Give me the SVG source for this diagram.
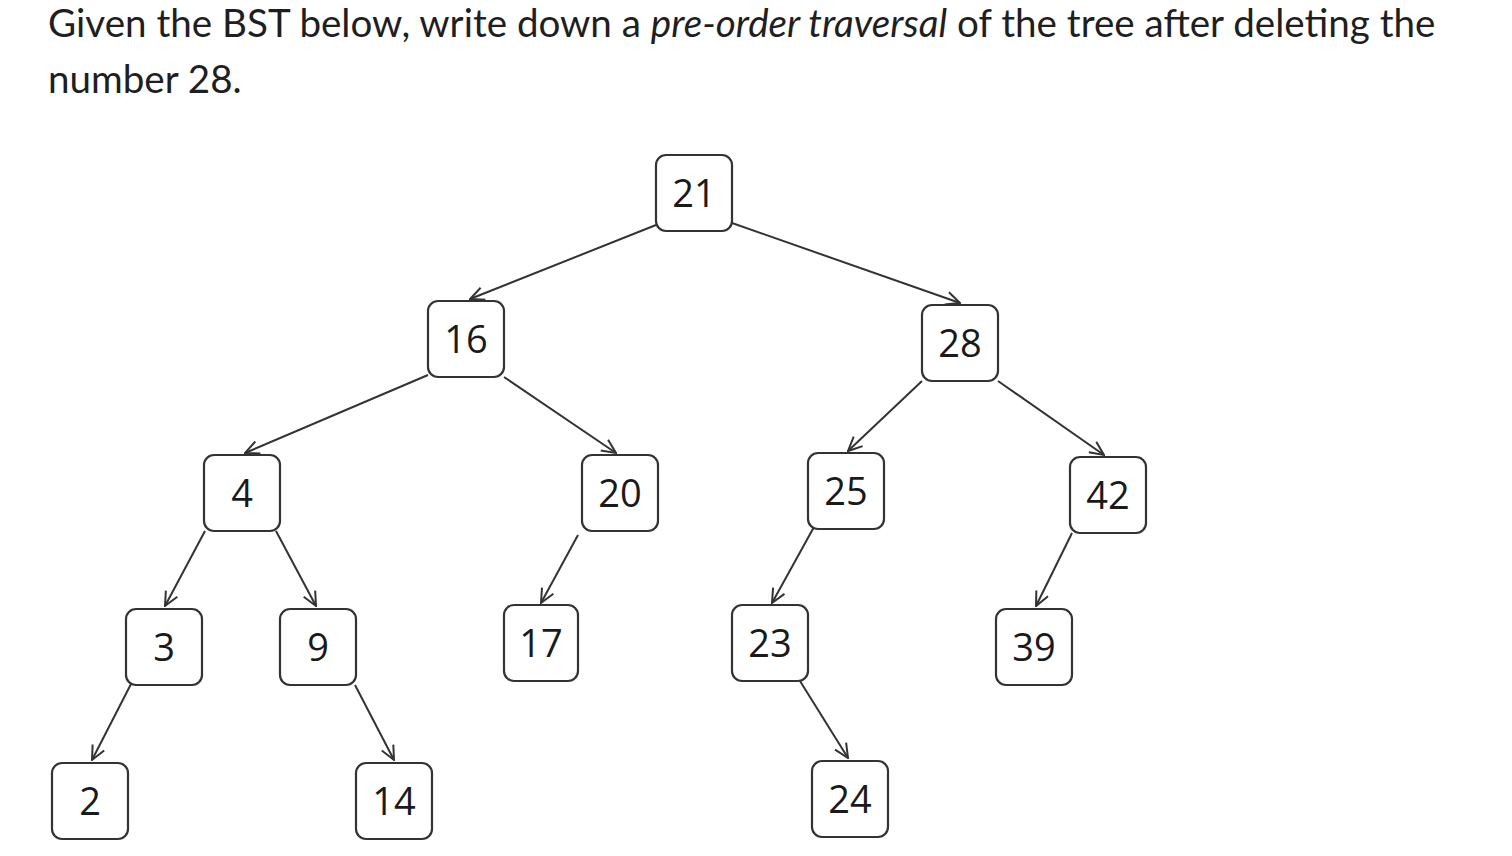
<svg xmlns="http://www.w3.org/2000/svg" width="1512" height="856" viewBox="0 0 1512 856">
<style>
.h{font-family:Lato,"Liberation Sans",sans-serif;font-size:38.6px;fill:#1f1f1f}
.n rect{fill:#fff;stroke:#333;stroke-width:2.2}
.n text{font-family:"Open Sans",Lato,"Liberation Sans",sans-serif;font-size:38px;fill:#1a1a1a;text-anchor:middle;dominant-baseline:central}
.e line{stroke:#333;stroke-width:2;marker-end:url(#a)}
</style>
<defs><marker id="a" viewBox="0 0 16 16" refX="15" refY="8" markerWidth="16" markerHeight="16" markerUnits="userSpaceOnUse" orient="auto"><path d="M1,1.5 L15,8 L1,14.5" fill="none" stroke="#333" stroke-width="2"/></marker></defs>
<rect width="1512" height="856" fill="#fff"/>
<text class="h" x="48" y="37">Given the BST below, write down a <tspan font-style="italic">pre-order traversal</tspan> of the tree after deleting the</text>
<text class="h" x="48" y="93">number 28.</text>
<g class="e">
<line x1="656" y1="225" x2="470" y2="299"/>
<line x1="732" y1="223" x2="960" y2="303"/>
<line x1="428" y1="375" x2="245" y2="453"/>
<line x1="504" y1="377" x2="616" y2="453"/>
<line x1="922" y1="381" x2="848" y2="451"/>
<line x1="998" y1="381" x2="1104" y2="455"/>
<line x1="205" y1="531" x2="165" y2="606"/>
<line x1="276" y1="531" x2="316" y2="606"/>
<line x1="578" y1="535" x2="541" y2="603"/>
<line x1="814" y1="527" x2="772" y2="603"/>
<line x1="1072" y1="533" x2="1036" y2="606"/>
<line x1="131" y1="684" x2="92" y2="760"/>
<line x1="355" y1="685" x2="394" y2="760"/>
<line x1="800" y1="681" x2="848" y2="758"/>
</g>
<g id="n21" class="n"><rect x="656" y="155" width="76" height="76" rx="10"/><text x="694" y="192">21</text></g>
<g id="n16" class="n"><rect x="428" y="301" width="76" height="76" rx="10"/><text x="466" y="338">16</text></g>
<g id="n28" class="n"><rect x="922" y="305" width="76" height="76" rx="10"/><text x="960" y="342">28</text></g>
<g id="n4" class="n"><rect x="204" y="455" width="76" height="76" rx="10"/><text x="242" y="492">4</text></g>
<g id="n20" class="n"><rect x="582" y="455" width="76" height="76" rx="10"/><text x="620" y="492">20</text></g>
<g id="n25" class="n"><rect x="808" y="453" width="76" height="76" rx="10"/><text x="846" y="490">25</text></g>
<g id="n42" class="n"><rect x="1070" y="457" width="76" height="76" rx="10"/><text x="1108" y="494">42</text></g>
<g id="n3" class="n"><rect x="126" y="609" width="76" height="76" rx="10"/><text x="164" y="646">3</text></g>
<g id="n9" class="n"><rect x="280" y="609" width="76" height="76" rx="10"/><text x="318" y="646">9</text></g>
<g id="n17" class="n"><rect x="504" y="605" width="74" height="76" rx="10"/><text x="541" y="642">17</text></g>
<g id="n23" class="n"><rect x="732" y="605" width="76" height="76" rx="10"/><text x="770" y="642">23</text></g>
<g id="n39" class="n"><rect x="996" y="609" width="76" height="76" rx="10"/><text x="1034" y="646">39</text></g>
<g id="n2" class="n"><rect x="52" y="763" width="76" height="76" rx="10"/><text x="90" y="800">2</text></g>
<g id="n14" class="n"><rect x="356" y="763" width="76" height="76" rx="10"/><text x="394" y="800">14</text></g>
<g id="n24" class="n"><rect x="812" y="761" width="76" height="76" rx="10"/><text x="850" y="798">24</text></g>
</svg>
